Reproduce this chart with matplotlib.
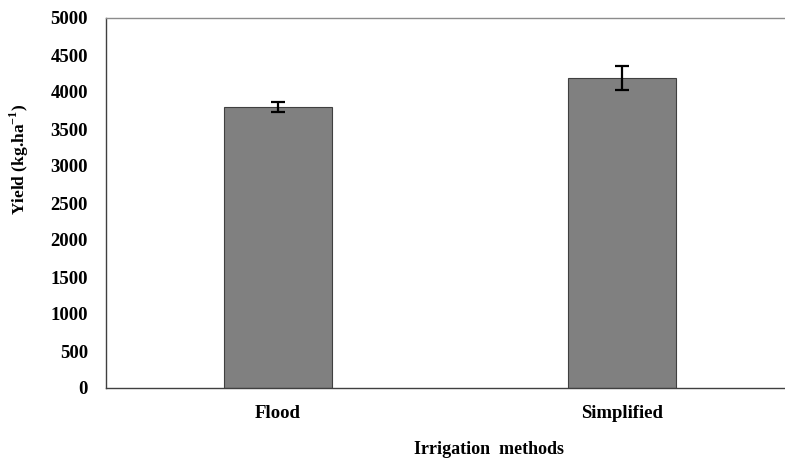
import numpy as np
import matplotlib
matplotlib.use('Agg')
import matplotlib.pyplot as plt

# data
methods = ['Flood', 'Simplified']
yield_mean = [3800, 4190]
yield_err = [65, 165]
yticks = [0, 500, 1000, 1500, 2000, 2500, 3000, 3500, 4000, 4500, 5000]

plt.rcParams['font.family'] = ['Liberation Serif', 'DejaVu Serif']
plt.rcParams['font.weight'] = 'bold'
plt.rcParams['mathtext.fontset'] = 'custom'
plt.rcParams['mathtext.rm'] = 'Liberation Serif'
plt.rcParams['mathtext.bf'] = 'Liberation Serif:bold'

fig = plt.figure(figsize=(7.85, 4.59), dpi=100)
ax = fig.add_axes([106 / 785, 71 / 459, 688 / 785, 370 / 459])

x = np.arange(len(methods))
ax.bar(x, yield_mean, width=0.314, color='#808080', edgecolor='#404040', linewidth=0.8,
       yerr=yield_err, error_kw=dict(ecolor='black', elinewidth=1.6, capsize=5, capthick=1.6))

ax.set_xlim(-0.5, 1.5)
ax.set_ylim(0, 5000)
ax.set_yticks(yticks)
ax.set_yticklabels([str(v) for v in yticks], fontsize=13.5, fontweight='bold')
ax.set_xticks(x)
ax.set_xticklabels(methods, fontsize=13.5, fontweight='bold')
ax.tick_params(axis='both', length=0)
ax.tick_params(axis='y', pad=13)
ax.tick_params(axis='x', pad=12)

ax.spines['right'].set_visible(False)
ax.spines['left'].set_color('#404040')
ax.spines['bottom'].set_color('#404040')
ax.spines['top'].set_color('#8c8c8c')
for s in ['left', 'bottom', 'top']:
    ax.spines[s].set_linewidth(1.0)

fig.text(489 / 785, 1 - 450 / 459, 'Irrigation  methods', ha='center', va='center',
         fontsize=13, fontweight='bold')
fig.text(19 / 785, 1 - 159 / 459, 'Yield (kg.ha$^{\\mathbf{-1}}$)', ha='center', va='center',
         rotation=90, fontsize=12.5, fontweight='bold')

fig.savefig('out.png', dpi=100)
